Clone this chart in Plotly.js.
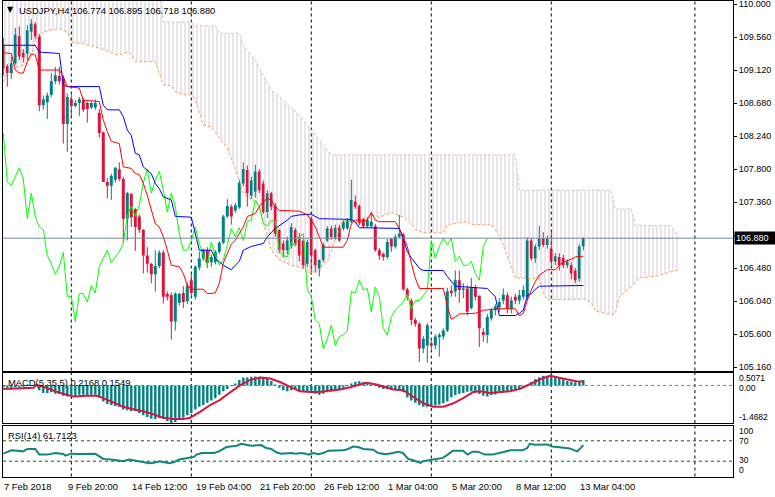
<!DOCTYPE html>
<html><head><meta charset="utf-8">
<script src="https://cdn.plot.ly/plotly-3.0.1.min.js"></script>
<style>html,body{margin:0;padding:0;background:#fff;overflow:hidden}#chart{width:775px;height:497px}</style>
</head><body><div id="chart"></div>
<script>
// ---------------- DATA ----------------
const symbolTitle = "USDJPY,H4 106.774 106.895 106.718 106.880";
const openP = [109.45,109.17,109.08,109.21,109.57,109.35,109.34,109.63,109.73,109.57,
108.65,108.69,108.79,108.97,109.04,109.01,108.40,108.73,108.64,108.68,
108.72,108.68,108.62,108.62,108.55,108.29,107.63,107.58,107.66,107.80,
107.67,107.14,107.47,107.27,107.17,106.99,106.65,106.54,106.40,106.51,
106.69,106.14,106.12,105.77,106.02,106.15,106.04,106.32,106.10,106.49,
106.61,106.72,106.56,106.56,106.70,106.82,107.17,107.30,107.25,107.29,
107.61,107.79,107.45,107.50,107.77,107.61,107.23,107.48,107.31,106.99,
106.81,106.72,106.78,106.99,106.90,106.85,106.54,107.14,106.72,106.48,
106.59,106.85,107.01,106.89,107.02,107.01,107.01,107.10,107.37,107.31,
107.13,107.04,107.04,107.04,106.72,106.67,106.63,106.87,106.77,106.90,
106.93,106.20,106.05,105.79,105.74,105.41,105.45,105.48,105.45,105.56,
105.57,105.65,106.18,106.17,106.32,106.19,106.21,105.95,106.22,106.11,
105.63,105.59,105.81,105.92,105.96,106.05,106.12,105.94,106.10,106.05,
106.10,106.10,106.85,106.61,106.77,106.88,106.79,106.74,106.57,106.63,
106.62,106.52,106.52,106.45,106.34,106.774];
const highP = [109.55,109.20,109.30,109.68,109.70,109.40,109.72,109.80,109.76,109.60,
108.78,108.82,109.08,109.16,109.16,109.05,108.81,108.79,108.72,108.76,
108.75,108.70,108.70,108.73,108.60,108.30,107.68,107.74,107.83,107.89,
107.70,107.50,107.48,107.28,107.20,107.00,106.76,106.55,106.72,106.72,
106.72,106.17,106.16,106.16,106.15,106.24,106.29,106.40,106.52,106.70,
106.74,106.76,106.66,106.72,106.84,107.19,107.40,107.33,107.35,107.66,
107.89,107.85,107.70,107.86,107.80,107.65,107.52,107.50,107.35,107.00,
106.85,106.90,107.08,107.02,106.95,106.87,106.86,107.17,106.74,106.60,
106.82,107.04,107.05,107.06,107.06,107.12,107.15,107.66,107.45,107.33,
107.15,107.16,107.23,107.07,106.75,106.69,106.87,106.88,106.93,107.19,
106.95,106.22,106.08,105.82,105.76,105.58,105.75,105.55,105.60,105.62,
105.68,106.22,106.25,106.45,106.45,106.28,106.25,106.35,106.26,106.12,
105.68,105.87,105.95,106.00,106.08,106.21,106.16,106.10,106.14,106.19,
106.25,106.89,106.88,106.80,107.04,106.96,106.92,106.96,106.68,106.68,
106.66,106.60,106.56,106.48,106.80,106.895];
const lowP = [109.05,108.90,109.00,109.19,109.25,109.22,109.25,109.52,109.53,108.57,
108.59,108.47,108.76,108.93,108.93,108.14,108.03,108.50,108.62,108.51,
108.56,108.42,108.60,108.59,108.22,107.63,107.41,107.39,107.62,107.64,
106.82,106.85,107.03,106.71,106.95,106.41,106.42,106.28,106.17,106.48,
106.01,106.05,105.53,105.65,105.98,105.95,106.00,106.09,106.06,106.45,
106.58,106.48,106.50,106.53,106.67,106.80,107.15,107.06,107.22,107.27,
107.57,107.30,107.40,107.42,107.48,107.20,107.15,107.25,106.90,106.68,
106.62,106.67,106.74,106.78,106.57,106.48,106.50,106.43,106.43,106.37,
106.56,106.83,106.86,106.86,106.83,106.98,106.99,107.08,107.27,107.05,
107.01,107.02,107.02,106.70,106.59,106.58,106.60,106.70,106.74,106.88,
106.18,106.05,105.72,105.70,105.23,105.35,105.22,105.40,105.40,105.30,
105.53,105.63,106.10,106.10,106.02,106.08,105.85,105.93,106.05,105.43,
105.50,105.48,105.78,105.85,105.90,106.00,105.88,105.88,106.00,106.00,
106.06,106.05,106.58,106.55,106.72,106.76,106.74,106.52,106.52,106.45,
106.48,106.48,106.33,106.28,106.30,106.718];
const closeP = [109.14,109.08,109.21,109.59,109.30,109.29,109.65,109.74,109.57,108.65,
108.73,108.78,108.97,109.05,108.97,108.40,108.76,108.64,108.68,108.73,
108.59,108.60,108.68,108.68,108.28,107.63,107.58,107.71,107.82,107.67,
107.14,107.48,107.16,107.03,106.99,106.65,106.54,106.40,106.51,106.69,
106.10,106.10,105.77,106.14,106.14,106.03,106.25,106.15,106.50,106.61,
106.72,106.55,106.63,106.70,106.82,107.17,107.31,107.17,107.32,107.62,
107.80,107.48,107.65,107.77,107.52,107.23,107.48,107.30,106.94,106.72,
106.72,106.85,107.03,106.81,106.65,106.52,106.83,106.65,106.52,106.59,
106.79,107.01,106.90,107.02,106.85,107.10,107.12,107.39,107.30,107.08,
107.04,107.12,107.10,106.72,106.65,106.63,106.83,106.77,106.90,106.94,
106.20,106.10,105.79,105.74,105.41,105.54,105.72,105.45,105.57,105.59,
105.65,106.17,106.15,106.32,106.19,106.21,105.90,106.23,106.10,105.68,
105.59,105.83,105.92,105.97,106.03,106.13,105.94,106.05,106.05,106.12,
106.19,106.85,106.61,106.77,106.88,106.79,106.88,106.57,106.64,106.52,
106.52,106.57,106.41,106.32,106.77,106.880];

const tenkanX = [0,2,3,4,5,6,7,8,9,14,15,16,19,20,24,25,26,27,29,30,32,33,34,35,36,37,38,39,40,41,42,44,45,46,47,50,51,53,54,55,56,57,58,59,60,61,63,64,65,66,67,68,69,74,75,76,77,78,79,80,85,86,87,88,91,92,93,94,98,99,100,101,102,103,104,110,111,112,113,114,118,120,124,128,129,130,131,132,133,134,136,138,139,140,142,143,145];
const tenkanY = [109.35,109.34,109.12,109.08,109.08,109.23,109.34,109.32,109.12,109.12,109.03,108.90,108.88,108.72,108.70,108.45,108.30,108.17,108.14,107.83,107.81,107.74,107.73,107.61,107.45,107.25,107.07,107.03,106.90,106.72,106.52,106.50,106.41,106.25,106.20,106.20,106.14,106.15,106.28,106.55,106.68,106.80,106.85,106.95,107.03,107.17,107.21,107.30,107.37,107.41,107.39,107.30,107.25,107.24,107.22,107.19,107.12,107.03,106.90,106.76,106.76,106.85,107.07,107.12,107.12,107.22,107.12,107.10,107.10,107.01,106.90,106.77,106.55,106.35,106.21,106.21,105.98,105.80,105.83,105.87,105.88,105.92,105.94,105.94,105.85,105.88,106.05,106.19,106.30,106.39,106.46,106.46,106.52,106.56,106.60,106.63,106.64];
const kijunX = [0,8,9,14,15,16,24,25,26,29,30,31,32,33,34,35,37,38,39,40,42,43,47,48,49,52,53,55,57,58,59,60,62,65,66,68,71,72,74,77,79,87,88,89,99,100,101,102,103,104,105,110,111,112,113,121,122,123,124,128,129,130,131,132,133,134,145];
const kijunY = [109.45,109.45,109.36,109.34,108.92,108.90,108.90,108.65,108.59,108.59,108.50,108.32,108.25,108.01,107.99,107.83,107.74,107.61,107.54,107.43,107.39,107.17,107.16,106.94,106.72,106.72,106.61,106.52,106.46,106.52,106.57,106.72,106.77,106.81,106.90,107.01,107.12,107.17,107.19,107.20,107.14,107.13,107.10,107.02,107.01,106.87,106.70,106.62,106.55,106.48,106.45,106.45,106.37,106.30,106.24,106.21,106.15,106.10,105.85,105.85,105.88,105.92,106.12,106.14,106.20,106.24,106.25];
const spanAX = [0,1,3,6,7,8,10,14,16,17,20,24,28,29,31,32,33,38,39,40,42,43,45,47,48,49,50,52,53,54,56,57,58,59,60,62,64,65,66,67,69,72,75,76,79,80,81,83,85,88,92,94,97,100,102,103,105,110,111,112,116,117,122,123,124,125,126,127,128,134,135,136,145,147,148,152,153,154,157,159,164,166,169];
const spanAY = [108.96,109.08,109.15,109.21,109.29,109.52,109.63,109.67,109.63,109.49,109.47,109.41,109.33,109.32,109.36,109.33,109.23,109.23,109.08,108.92,108.91,108.83,108.79,108.79,108.72,108.56,108.39,108.36,108.29,108.21,108.08,107.95,107.79,107.61,107.48,107.39,107.30,107.08,106.90,106.72,106.59,106.52,106.48,106.42,106.43,106.55,106.56,106.86,107.12,107.08,107.19,107.16,107.22,107.16,107.08,106.99,106.95,106.95,107.06,107.07,107.10,107.06,107.06,106.99,106.90,106.79,106.63,106.50,106.35,106.34,106.15,106.06,106.07,106.02,105.91,105.86,105.88,106.10,106.23,106.35,106.38,106.42,106.46];
const spanBX = [0,39,40,47,48,53,54,59,60,63,65,67,70,74,76,79,82,128,129,152,153,157,158,167,168,169];
const spanBY = [110.30,110.30,109.76,109.76,109.71,109.71,109.61,109.61,109.45,109.25,109.05,108.85,108.72,108.52,108.39,108.19,107.99,107.99,107.52,107.52,107.27,107.27,107.05,107.05,106.95,106.95];
const chikouShift = 24;

const macdHist = [-0.067,-0.094,-0.094,-0.067,-0.067,-0.054,-0.027,0.020,0.030,-0.188,
-0.295,-0.295,-0.268,-0.322,-0.336,-0.403,-0.430,-0.430,-0.403,-0.362,
-0.362,-0.389,-0.362,-0.362,-0.457,-0.631,-0.725,-0.765,-0.806,-0.833,
-0.940,-0.967,-0.994,-1.007,-1.074,-1.168,-1.236,-1.303,-1.316,-1.276,
-1.316,-1.400,-1.468,-1.430,-1.343,-1.262,-1.168,-1.074,-0.940,-0.833,
-0.765,-0.672,-0.591,-0.497,-0.362,-0.228,-0.134,-0.027,0.081,0.215,
0.309,0.309,0.336,0.349,0.336,0.309,0.269,0.175,0.041,-0.094,
-0.188,-0.228,-0.188,-0.161,-0.228,-0.255,-0.268,-0.295,-0.322,-0.362,
-0.322,-0.268,-0.242,-0.228,-0.161,-0.094,-0.027,0.081,0.135,0.161,
0.135,0.108,0.041,-0.027,-0.094,-0.134,-0.134,-0.161,-0.134,-0.161,
-0.268,-0.457,-0.591,-0.672,-0.765,-0.833,-0.833,-0.806,-0.779,-0.752,
-0.698,-0.631,-0.457,-0.376,-0.322,-0.295,-0.242,-0.228,-0.268,-0.336,
-0.403,-0.430,-0.376,-0.349,-0.295,-0.255,-0.228,-0.201,-0.188,-0.161,
-0.107,0.027,0.135,0.242,0.322,0.376,0.376,0.376,0.336,0.296,
0.242,0.175,0.150,0.130,0.170,0.2168];
const signalX = [0,7.5,8.3,10.8,14.2,17.5,20.8,23.3,25,27.5,30,32.5,35,37.5,40,42.5,45,46.7,49.2,51.7,54.2,56.7,59.2,61.7,64.2,66.7,69.2,71.7,74.2,76.7,79.2,81.7,84.2,86.7,89.2,90.8,93.3,95.8,97.5,100,102.5,105,107.5,110,112.5,115,117.5,119.2,121.7,124.2,126.7,129.2,131.7,134.2,136.7,139.2,141.7,143.3,145];
const signalY = [-0.134,-0.094,0.027,-0.094,-0.295,-0.430,-0.403,-0.403,-0.497,-0.672,-0.833,-0.927,-1.007,-1.128,-1.262,-1.316,-1.316,-1.262,-1.034,-0.765,-0.564,-0.268,0.000,0.215,0.309,0.269,0.135,-0.054,-0.228,-0.255,-0.255,-0.201,-0.161,-0.067,0.041,0.108,0.041,-0.094,-0.161,-0.188,-0.430,-0.698,-0.833,-0.833,-0.698,-0.497,-0.255,-0.228,-0.295,-0.268,-0.228,-0.134,0.041,0.242,0.376,0.309,0.215,0.161,0.1549];
const rsiX = [0,2,5,6,8,9,11,13,15,15.5,17,19,23,25,27,29,30,31.5,34,36.5,37.7,39,41.5,42.7,44,46.4,47.7,48.3,49.6,52.7,53.9,55.8,58.3,59.5,60.7,62,64.5,65.7,67,68.2,69.4,71.9,73.2,74.4,75.7,76.3,77.5,78.8,80,81.3,85,86.2,87.5,88.7,90,92.5,93.7,95.6,97.4,98.7,99.9,101.2,102.4,104.3,104.9,106.2,108.6,109.9,111.1,112.4,114.9,116.1,117.3,118.6,120.4,122.3,124.8,126.7,129.8,131,131.6,132.9,136,137.2,138.5,141.6,142.8,143.5,144.5,145];
const rsiY = [44.8,51.3,49.3,53.9,53.9,42.9,42.9,46.1,44.2,41.0,44.8,44.2,44.8,34.5,33.2,31.9,30.0,33.2,30.0,26.2,26.8,30.0,26.2,28.1,33.2,36.5,38.4,42.9,46.1,46.1,49.3,57.7,60.3,64.1,62.2,60.3,61.6,55.8,53.9,47.4,44.8,46.1,44.8,46.1,44.8,42.9,46.1,43.5,46.1,50.6,51.3,53.9,59.0,57.7,53.9,52.6,46.1,43.5,46.1,48.7,46.1,34.5,31.95,26.8,30.0,31.95,34.5,36.5,42.9,50.6,50.6,42.9,48.7,48.7,42.9,42.9,47.4,51.3,51.3,55.8,64.1,62.2,62.9,59.0,57.7,55.1,51.3,49.3,57.0,61.71];

const priceTicks = [110.000,109.560,109.120,108.680,108.240,107.800,107.360,106.920,106.480,106.040,105.600,105.160];
const lastPrice = 106.880;
const timeLabels = ["7 Feb 2018","9 Feb 20:00","14 Feb 12:00","19 Feb 04:00","21 Feb 20:00","26 Feb 12:00","1 Mar 04:00","5 Mar 20:00","8 Mar 12:00","13 Mar 04:00"];
const timeLabelBars = [0,16,32,48,64,80,96,112,128,144];
const weekGridBars = [17,47,77,107,137,172.9];
const macdTitle = "MACD(5,35,5) 0.2168 0.1549";
const macdScale = [0.5071, 0.00, -1.4682];
const rsiTitle = "RSI(14) 61.7123";
const rsiLevels = [100,70,30,0];

// ---------------- BUILD ----------------
const BULL = '#008080', BEAR = '#dc143c';
const FONT = 'Liberation Sans, Arial, sans-serif';
const n = closeP.length;
const idx = closeP.map((_, i) => i);
const PL = 3, PR = 733, PT = 1, PB = 477;
const px = v => (v - PL) / (PR - PL);
const py = v => (PB - v) / (PB - PT);

const wickBull = {x: [], y: []}, wickBear = {x: [], y: []};
idx.forEach(i => {
  const w = closeP[i] >= openP[i] ? wickBull : wickBear;
  w.x.push(i, i, null); w.y.push(lowP[i], highP[i], null);
});
const bodyBase = idx.map(i => Math.min(openP[i], closeP[i]));
const bodyLen = idx.map(i => Math.max(Math.abs(closeP[i] - openP[i]), 0.012));
const bodyCol = idx.map(i => closeP[i] >= openP[i] ? BULL : BEAR);

const chX = [], chY = [];
for (let i = chikouShift; i < n; i++) { chX.push(i - chikouShift); chY.push(closeP[i]); }

const traces = [
  {type:'scatter', mode:'lines', x: spanBX, y: spanBY, xaxis:'x', yaxis:'y',
   line:{color:'#d8bfd8', width:1, dash:'3px,2px'}, hoverinfo:'skip'},
  {type:'scatter', mode:'lines', x: spanAX, y: spanAY, xaxis:'x', yaxis:'y',
   line:{color:'#f4a460', width:1, dash:'3px,2px'}, fill:'tonexty', fillcolor:'rgba(0,0,0,0)',
   fillpattern:{shape:'|', size:4, solidity:0.22, fgcolor:'#d2c4d2', bgcolor:'rgba(255,255,255,0)'}, hoverinfo:'skip'},
  {type:'scatter', mode:'lines', x: wickBull.x, y: wickBull.y, xaxis:'x', yaxis:'y',
   line:{color:BULL, width:1}, hoverinfo:'skip', connectgaps:false},
  {type:'scatter', mode:'lines', x: wickBear.x, y: wickBear.y, xaxis:'x', yaxis:'y',
   line:{color:BEAR, width:1}, hoverinfo:'skip', connectgaps:false},
  {type:'bar', x: idx, y: bodyLen, base: bodyBase, width: 0.75, xaxis:'x', yaxis:'y',
   marker:{color: bodyCol, line:{width:0}}, hoverinfo:'skip'},
  {type:'scatter', mode:'lines', x: chX, y: chY, xaxis:'x', yaxis:'y',
   line:{color:'#00ff00', width:1}, hoverinfo:'skip'},
  {type:'scatter', mode:'lines', x: kijunX, y: kijunY, xaxis:'x', yaxis:'y',
   line:{color:'#0000ff', width:1}, hoverinfo:'skip'},
  {type:'scatter', mode:'lines', x: tenkanX, y: tenkanY, xaxis:'x', yaxis:'y',
   line:{color:'#ff0000', width:1}, hoverinfo:'skip'},
  {type:'bar', x: idx, y: macdHist, width: 0.6, xaxis:'x2', yaxis:'y2',
   marker:{color: BULL, line:{width:0}}, hoverinfo:'skip'},
  {type:'scatter', mode:'lines', x: signalX, y: signalY, xaxis:'x2', yaxis:'y2',
   line:{color:BEAR, width:2}, hoverinfo:'skip'},
  {type:'scatter', mode:'lines', x: rsiX, y: rsiY, xaxis:'x3', yaxis:'y3',
   line:{color:'#12857c', width:2}, hoverinfo:'skip'}
];

const xr = [-0.075, -0.075 + (PR - PL) / 4];
const xBase = {range: xr, showline:true, mirror:true, linecolor:'#000', linewidth:1,
  showticklabels:false, ticks:'', showgrid:false, zeroline:false, fixedrange:true};
const yBase = {showline:true, mirror:true, linecolor:'#000', linewidth:1,
  showgrid:false, zeroline:false, fixedrange:true};

const shapes = [];
weekGridBars.forEach(b => {
  ['y','y2','y3'].forEach((ya, k) => {
    shapes.push({type:'line', xref: k === 0 ? 'x' : 'x' + (k + 1), yref: ya + ' domain',
      x0:b, x1:b, y0:0, y1:1, line:{color:'#000', width:1, dash:'3px,3px'}, layer:'below'});
  });
});
shapes.push({type:'line', xref:'x domain', yref:'y', x0:0, x1:1, y0:lastPrice, y1:lastPrice,
  line:{color:'#778899', width:1}, layer:'above'});
shapes.push({type:'line', xref:'x2 domain', yref:'y2', x0:0, x1:1, y0:0, y1:0,
  line:{color:'#808080', width:1, dash:'3px,3px'}, layer:'below'});
[70,30].forEach(v => shapes.push({type:'line', xref:'x3 domain', yref:'y3', x0:0, x1:1, y0:v, y1:v,
  line:{color:'#006400', width:1, dash:'3px,3px'}, layer:'below'}));

const ann = [];
const txt = (text, x, y, opts) => Object.assign({text, x, y, xref:'paper', yref:'paper',
  xanchor:'left', yanchor:'middle', showarrow:false, font:{family:FONT, size:9.4, color:'#000'}}, opts || {});
ann.push(txt('▼', px(5), py(9.5), {font:{family:'DejaVu Sans', size:8, color:'#000'}}));
ann.push(txt(symbolTitle, px(17), py(10)));
ann.push(txt(macdTitle, px(6), py(382)));
ann.push(txt(rsiTitle, px(6), py(435)));
const macdLabelY = [378, 388, 417];
macdScale.forEach((v, k) => ann.push(txt(v === 0 ? '0.00' : String(v), px(737), py(macdLabelY[k]), {font:{family:FONT, size:8.5, color:'#000'}})));
const rsiLabelY = [431, 441, 460, 470];
rsiLevels.forEach((v, k) => ann.push(txt(String(v), px(737), py(rsiLabelY[k]), {font:{family:FONT, size:8.5, color:'#000'}})));
ann.push({text: lastPrice.toFixed(3), x: px(734), xref:'paper', y:lastPrice, yref:'y', xanchor:'left', yanchor:'middle',
  showarrow:false, bgcolor:'#000', borderpad:1, font:{family:FONT, size:9, color:'#fff'}, width:38, align:'left'});
timeLabels.forEach((t, k) => ann.push({text:t, x: timeLabelBars[k], xref:'x3', y: py(487), yref:'paper',
  xanchor:'left', yanchor:'middle', xshift:-1, showarrow:false, font:{family:FONT, size:9.4, color:'#000'}}));

const layout = {
  width:775, height:497, margin:{l:PL, r:775 - PR, t:PT, b:497 - PB, pad:0},
  paper_bgcolor:'#fff', plot_bgcolor:'#fff', showlegend:false, barmode:'overlay',
  xaxis: Object.assign({}, xBase, {anchor:'y'}),
  xaxis2: Object.assign({}, xBase, {anchor:'y2'}),
  xaxis3: Object.assign({}, xBase, {anchor:'y3'}),
  yaxis: Object.assign({}, yBase, {domain:[py(370.5), 1], range:[110 - (370.5 - 4) / 75.06, 110 + 3 / 75.06],
    side:'right', anchor:'x', tickvals: priceTicks,
    ticktext: priceTicks.map(v => Math.abs(v - lastPrice) < 0.06 ? '' : v.toFixed(3)),
    ticks:'outside', ticklen:3, tickcolor:'#000', ticklabeloverflow:'allow',
    tickfont:{family:FONT, size:9, color:'#000'}}),
  yaxis2: Object.assign({}, yBase, {domain:[py(423), py(372.5)], range:[-1.4682, 0.5071], anchor:'x2', showticklabels:false, ticks:''}),
  yaxis3: Object.assign({}, yBase, {domain:[py(476.5), py(425.5)], range:[0, 100], anchor:'x3', showticklabels:false, ticks:''}),
  shapes, annotations: ann
};
Plotly.newPlot('chart', traces, layout, {staticPlot:true, displayModeBar:false});
</script></body></html>
